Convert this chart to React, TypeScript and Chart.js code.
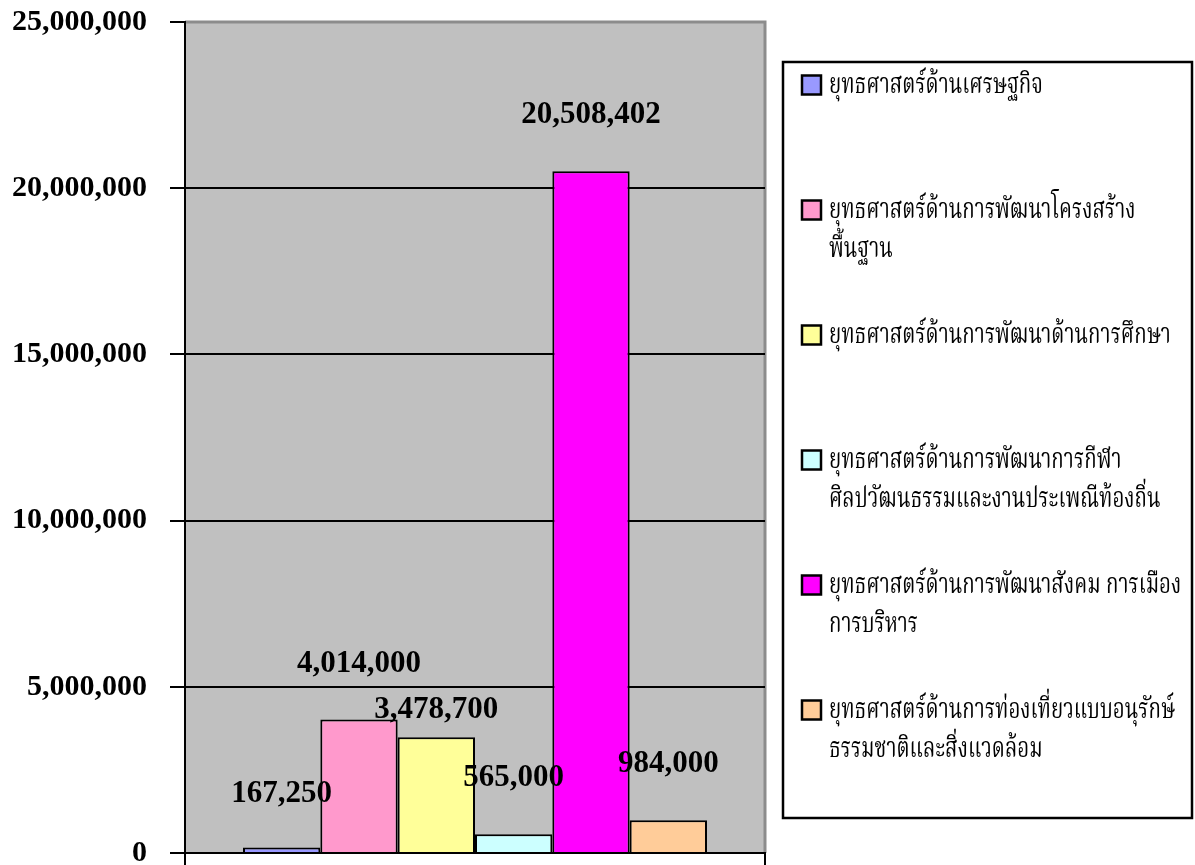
import React, { useEffect, useRef } from 'react';
import { Chart, registerables } from 'chart.js';

Chart.register(...registerables);

const categories = [''];
const legendLines: string[][] = [
  ['ยุทธศาสตร์ด้านเศรษฐกิจ'],
  ['ยุทธศาสตร์ด้านการพัฒนาโครงสร้าง', 'พื้นฐาน'],
  ['ยุทธศาสตร์ด้านการพัฒนาด้านการศึกษา'],
  ['ยุทธศาสตร์ด้านการพัฒนาการกีฬา', 'ศิลปวัฒนธรรมและงานประเพณีท้องถิ่น'],
  ['ยุทธศาสตร์ด้านการพัฒนาสังคม การเมือง', 'การบริหาร'],
  ['ยุทธศาสตร์ด้านการท่องเที่ยวแบบอนุรักษ์', 'ธรรมชาติและสิ่งแวดล้อม'],
];
const seriesValues = [167250, 4014000, 3478700, 565000, 20508402, 984000];
const seriesColors = ['#9999FF', '#FF99CC', '#FFFF99', '#CCFFFF', '#FF00FF', '#FFCC99'];
const yMin = 0;
const yMax = 25000000;
const yStep = 5000000;

const FONT = '"Liberation Serif", "Times New Roman", serif';
const THAI_FONT = 'Norasi, Kinnari, "Noto Serif Thai", "Liberation Serif", serif';

const fmt = (v: number) => Math.round(v).toLocaleString('en-US');

const backgroundPlugin = {
  id: 'plotBg',
  beforeDraw(chart: any) {
    const { ctx, chartArea } = chart;
    ctx.save();
    ctx.fillStyle = '#C0C0C0';
    ctx.fillRect(chartArea.left, chartArea.top, chartArea.right - chartArea.left, chartArea.bottom - chartArea.top);
    ctx.strokeStyle = '#8C8C8C';
    ctx.lineWidth = 3;
    ctx.beginPath();
    ctx.moveTo(chartArea.left, chartArea.top);
    ctx.lineTo(chartArea.right, chartArea.top);
    ctx.lineTo(chartArea.right, chartArea.bottom);
    ctx.stroke();
    ctx.restore();
  },
};

const labelLift = [53, 56, 27, 56, 56, 56];

const dataLabelPlugin = {
  id: 'valueLabels',
  afterDatasetsDraw(chart: any) {
    const { ctx } = chart;
    ctx.save();
    ctx.font = `bold 31px ${FONT}`;
    ctx.fillStyle = '#000';
    ctx.textAlign = 'center';
    ctx.textBaseline = 'middle';
    chart.data.datasets.forEach((ds: any, i: number) => {
      const meta = chart.getDatasetMeta(i);
      meta.data.forEach((bar: any, j: number) => {
        ctx.fillText(fmt(ds.data[j]), bar.x, bar.y - labelLift[i]);
      });
    });
    ctx.restore();
  },
};

const legendPlugin = {
  id: 'boxLegend',
  afterDraw(chart: any) {
    const { ctx } = chart;
    const box = { x: 783, y: 62, w: 409, h: 756 };
    ctx.save();
    ctx.fillStyle = '#fff';
    ctx.fillRect(box.x, box.y, box.w, box.h);
    ctx.strokeStyle = '#000';
    ctx.lineWidth = 2.5;
    ctx.strokeRect(box.x, box.y, box.w, box.h);
    ctx.textAlign = 'left';
    ctx.textBaseline = 'alphabetic';
    chart.data.datasets.forEach((ds: any, i: number) => {
      const y0 = 85 + i * 125;
      ctx.fillStyle = ds.backgroundColor;
      ctx.fillRect(802, y0 - 9.5, 19, 19);
      ctx.strokeStyle = '#000';
      ctx.lineWidth = 2.5;
      ctx.strokeRect(802, y0 - 9.5, 19, 19);
      ctx.fillStyle = '#000';
      legendLines[i].forEach((line, k) => {
        ctx.save();
        ctx.translate(829, y0 + 8 + k * 39);
        ctx.scale(1, 1.35);
        ctx.font = `20.5px ${THAI_FONT}`;
        ctx.fillText(line, 0, 0);
        ctx.restore();
      });
    });
    ctx.restore();
  },
};

export default function App() {
  const ref = useRef<HTMLCanvasElement>(null);
  useEffect(() => {
    document.body.style.margin = '0';
    if (!ref.current) return;
    const chart = new Chart(ref.current, {
      type: 'bar',
      data: {
        labels: categories,
        datasets: seriesValues.map((v, i) => ({
          label: legendLines[i].join(''),
          data: [v],
          backgroundColor: seriesColors[i],
          borderColor: '#000',
          borderWidth: 2,
          barPercentage: 1,
          categoryPercentage: 0.8,
        })),
      },
      options: {
        animation: false,
        responsive: false,
        layout: { padding: { top: 22, right: 430, bottom: 0, left: 0 } },
        plugins: {
          legend: { display: false },
          tooltip: { enabled: false },
        },
        scales: {
          x: {
            type: 'category',
            ticks: { display: false, padding: 0 },
            grid: {
              display: true,
              drawOnChartArea: false,
              drawTicks: true,
              tickLength: 12,
              color: '#000',
              lineWidth: 2,
              offset: true,
            },
            border: { display: true, color: '#000', width: 2 },
            afterFit(scale: any) {
              scale.height = 12;
              scale.paddingLeft = 0;
              scale.paddingRight = 0;
            },
          },
          y: {
            min: yMin,
            max: yMax,
            ticks: {
              stepSize: yStep,
              padding: 23,
              color: '#000',
              font: { family: FONT, size: 30, weight: 'bold' },
              callback: (v: any) => fmt(Number(v)),
            },
            grid: {
              color: (c: any) => (c.tick && c.tick.value === yMax ? '#8C8C8C' : '#000'),
              lineWidth: 2,
              tickLength: 15,
              tickColor: '#000',
            },
            border: { display: true, color: '#000', width: 2 },
            afterFit(scale: any) {
              scale.width = 185;
              scale.paddingTop = 0;
              scale.paddingBottom = 0;
            },
          },
        },
      },
      plugins: [backgroundPlugin, dataLabelPlugin, legendPlugin],
    });
    return () => chart.destroy();
  }, []);
  return (
    <div style={{ width: 1195, height: 865 }}>
      <canvas ref={ref} width={1195} height={865} />
    </div>
  );
}
